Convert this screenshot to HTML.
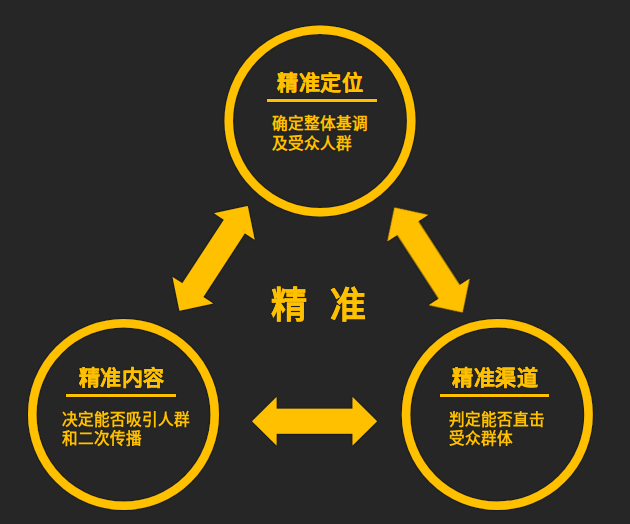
<!DOCTYPE html>
<html lang="zh-CN">
<head>
<meta charset="utf-8">
<style>
html,body{margin:0;padding:0;}
body{width:630px;height:524px;overflow:hidden;background:#262626;position:relative;font-family:"Liberation Sans",sans-serif;color:#FFC000;}
svg{position:absolute;left:0;top:0;}
.t{position:absolute;white-space:nowrap;line-height:1;text-shadow:0 0 1.5px rgba(0,0,0,0.55);}
.title{font-size:21px;letter-spacing:0.6px;font-weight:bold;-webkit-text-stroke:0.25px #FFC000;}
.body{font-size:15.6px;font-weight:bold;line-height:19.3px;}
.bar{position:absolute;height:3px;background:#FFC000;box-shadow:0 0 1.5px rgba(0,0,0,0.6);}
.big{font-size:36px;font-weight:bold;-webkit-text-stroke:0.3px #FFC000;}
</style>
</head>
<body>
<svg width="630" height="524" viewBox="0 0 630 524">
  <defs>
    <filter id="sh" x="-20%" y="-20%" width="140%" height="140%">
      <feGaussianBlur in="SourceAlpha" stdDeviation="1"/>
      <feComponentTransfer><feFuncA type="linear" slope="0.8"/></feComponentTransfer>
      <feMerge><feMergeNode/><feMergeNode in="SourceGraphic"/></feMerge>
    </filter>
  </defs>
  <g fill="none" stroke="#FFC000" stroke-width="8.5" filter="url(#sh)">
    <circle cx="320" cy="121" r="91.25"/>
    <circle cx="123.5" cy="414.5" r="91.25"/>
    <circle cx="497.3" cy="414.5" r="91.25"/>
  </g>
  <g fill="#FFC000" filter="url(#sh)">
    <polygon points="-62.5,0 -38,-24.25 -38,-12.5 38,-12.5 38,-24.25 62.5,0 38,24.25 38,12.5 -38,12.5 -38,24.25" transform="translate(213.6 258.3) rotate(-56.9)"/>
    <polygon points="-62.5,0 -38,-24.25 -38,-12.5 38,-12.5 38,-24.25 62.5,0 38,24.25 38,12.5 -38,12.5 -38,24.25" transform="translate(428.5 260) rotate(57)"/>
    <polygon points="-62.5,0 -38,-24.25 -38,-12.5 38,-12.5 38,-24.25 62.5,0 38,24.25 38,12.5 -38,12.5 -38,24.25" transform="translate(314.55 421.3)"/>
  </g>
</svg>

<div class="t title" style="left:277px;top:72px;">精准定位</div>
<div class="bar" style="left:267px;top:99px;width:110px;"></div>
<div class="t body" style="left:271.5px;top:113.5px;line-height:20.3px;">确定整体基调<br>及受众人群</div>

<div class="t big" style="left:270.5px;top:287.5px;">精</div>
<div class="t big" style="left:330px;top:287.5px;">准</div>

<div class="t title" style="left:78.5px;top:367px;">精准内容</div>
<div class="bar" style="left:66px;top:394px;width:110px;"></div>
<div class="t body" style="left:61.5px;top:409.5px;">决定能否吸引人群<br>和二次传播</div>

<div class="t title" style="left:452px;top:367px;">精准渠道</div>
<div class="bar" style="left:440px;top:394px;width:109px;"></div>
<div class="t body" style="left:448.5px;top:410px;">判定能否直击<br>受众群体</div>
</body>
</html>
